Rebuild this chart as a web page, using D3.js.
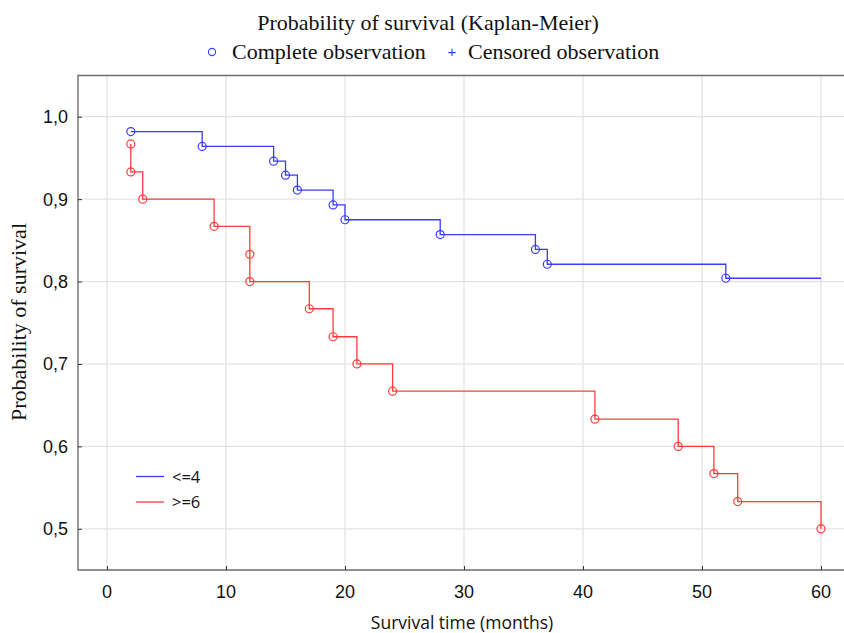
<!DOCTYPE html>
<html>
<head>
<meta charset="utf-8">
<script src="https://cdn.jsdelivr.net/npm/d3@7/dist/d3.min.js"></script>
<style>
  html, body { margin: 0; padding: 0; background: #fff; }
  svg { display: block; }
</style>
</head>
<body>
<svg id="chart" width="844" height="633"></svg>
<script>
// ── Data ────────────────────────────────────────────────
const groups     = ['<=4', '>=6'];
const lowTimes   = [2, 8, 14, 15, 16, 19, 20, 28, 36, 37, 52];
const lowSurv    = [0.982, 0.964, 0.946, 0.929, 0.911, 0.893, 0.875, 0.857, 0.839, 0.821, 0.804];
const highTimes  = [2, 2, 3, 9, 12, 12, 17, 19, 21, 24, 41, 48, 51, 53, 60];
const highSurv   = [0.967, 0.933, 0.900, 0.867, 0.833, 0.800, 0.767, 0.733, 0.700, 0.667, 0.633, 0.600, 0.567, 0.533, 0.500];
const followEnd  = [60, 60];           // last follow-up time per group
const xTicks     = [0, 10, 20, 30, 40, 50, 60];
const yTicks     = [0.5, 0.6, 0.7, 0.8, 0.9, 1.0];

const COLORS = ['#3b3bff', '#ff3b3b'];
const SERIF  = 'Liberation Serif, Times New Roman, serif';
const SANS   = 'Liberation Sans, Arial, sans-serif';

// ── Layout ──────────────────────────────────────────────
const frame = { left: 78, right: 846, top: 75.5, bottom: 570 };

const svg = d3.select('#chart');
const x = d3.scaleLinear().domain([0, 60]).range([107, 821]);
const y = d3.scaleLinear().domain([0.45, 1.05]).range([frame.bottom, frame.top]);

// grid
const grid = svg.append('g').attr('stroke', '#e3e3e3').attr('stroke-width', 1.3);
grid.selectAll('.gx').data(xTicks).join('line')
  .attr('x1', d => x(d)).attr('x2', d => x(d))
  .attr('y1', frame.top).attr('y2', frame.bottom);
grid.selectAll('.gy').data(yTicks).join('line')
  .attr('x1', frame.left).attr('x2', frame.right)
  .attr('y1', d => y(d)).attr('y2', d => y(d));

// frame (top, left, bottom)
svg.append('path')
  .attr('d', `M${frame.right},${frame.top}H${frame.left}V${frame.bottom}H${frame.right}`)
  .attr('fill', 'none').attr('stroke', '#6e6e6e').attr('stroke-width', 1.4);

// axes — inward ticks
const xAxis = svg.append('g')
  .attr('transform', `translate(0,${frame.bottom})`)
  .call(d3.axisTop(x).tickValues(xTicks).tickSize(4).tickFormat(''));
xAxis.select('.domain').remove();
xAxis.selectAll('line').attr('stroke', '#333');

const yAxis = svg.append('g')
  .attr('transform', `translate(${frame.left},0)`)
  .call(d3.axisRight(y).tickValues(yTicks).tickSize(4).tickFormat(''));
yAxis.select('.domain').remove();
yAxis.selectAll('line').attr('stroke', '#333');

// tick labels
const fmt = d3.format('.1f');
svg.append('g').selectAll('text').data(xTicks).join('text')
  .attr('x', d => x(d)).attr('y', 598)
  .attr('text-anchor', 'middle')
  .attr('font-family', SANS).attr('font-size', 18)
  .attr('fill', '#111')
  .text(d => d);
svg.append('g').selectAll('text').data(yTicks).join('text')
  .attr('x', 68).attr('y', d => y(d) + 6.5)
  .attr('text-anchor', 'end')
  .attr('font-family', SANS).attr('font-size', 18)
  .attr('fill', '#111')
  .text(d => fmt(d).replace('.', ','));

// axis titles
svg.append('text')
  .attr('x', 462).attr('y', 629)
  .attr('text-anchor', 'middle')
  .attr('font-family', 'Open Sans, sans-serif').attr('font-size', 17.5)
  .attr('fill', '#111')
  .text('Survival time (months)');
svg.append('text')
  .attr('transform', 'translate(26,322) rotate(-90)')
  .attr('text-anchor', 'middle')
  .attr('font-family', SERIF).attr('font-size', 22)
  .attr('fill', '#111')
  .text('Probability of survival');

// title + marker legend
svg.append('text')
  .attr('x', 428).attr('y', 30)
  .attr('text-anchor', 'middle')
  .attr('font-family', SERIF).attr('font-size', 22)
  .attr('fill', '#111')
  .text('Probability of survival (Kaplan-Meier)');
svg.append('circle')
  .attr('cx', 212).attr('cy', 52).attr('r', 3.6)
  .attr('fill', 'none').attr('stroke', '#3b3bff').attr('stroke-width', 1.1);
svg.append('text')
  .attr('x', 232).attr('y', 59)
  .attr('font-family', SERIF).attr('font-size', 22)
  .attr('fill', '#111')
  .text('Complete observation');
svg.append('text')
  .attr('x', 452).attr('y', 57).attr('text-anchor', 'middle')
  .attr('font-family', SANS).attr('font-size', 15)
  .attr('fill', '#3b3bff')
  .text('+');
svg.append('text')
  .attr('x', 468).attr('y', 59)
  .attr('font-family', SERIF).attr('font-size', 22)
  .attr('fill', '#111')
  .text('Censored observation');

// ── Kaplan-Meier curves ─────────────────────────────────
const series = [
  lowTimes.map((t, i) => ({ t, s: lowSurv[i] })),
  highTimes.map((t, i) => ({ t, s: highSurv[i] })),
];

const line = d3.line().x(d => x(d.t)).y(d => y(d.s)).curve(d3.curveStepAfter);

series.forEach((pts, gi) => {
  const last = pts[pts.length - 1];
  const path = last.t < followEnd[gi] ? pts.concat([{ t: followEnd[gi], s: last.s }]) : pts;
  svg.append('path')
    .datum(path)
    .attr('d', line)
    .attr('fill', 'none')
    .attr('stroke', COLORS[gi])
    .attr('stroke-width', 1.3);
  svg.append('g').selectAll('circle').data(pts).join('circle')
    .attr('cx', d => x(d.t)).attr('cy', d => y(d.s)).attr('r', 4)
    .attr('fill', 'none')
    .attr('stroke', COLORS[gi])
    .attr('stroke-width', 1.2);
});

// ── Group legend ────────────────────────────────────────
const leg = svg.append('g');
groups.forEach((g, i) => {
  const yy = 476.5 + i * 25.5;
  leg.append('line')
    .attr('x1', 136).attr('x2', 164).attr('y1', yy).attr('y2', yy)
    .attr('stroke', COLORS[i]).attr('stroke-width', 1.3);
  leg.append('text')
    .attr('x', 172).attr('y', yy + 6)
    .attr('font-family', 'Open Sans, sans-serif').attr('font-size', 16.5)
    .attr('fill', '#111')
    .text(g);
});
</script>
</body>
</html>
